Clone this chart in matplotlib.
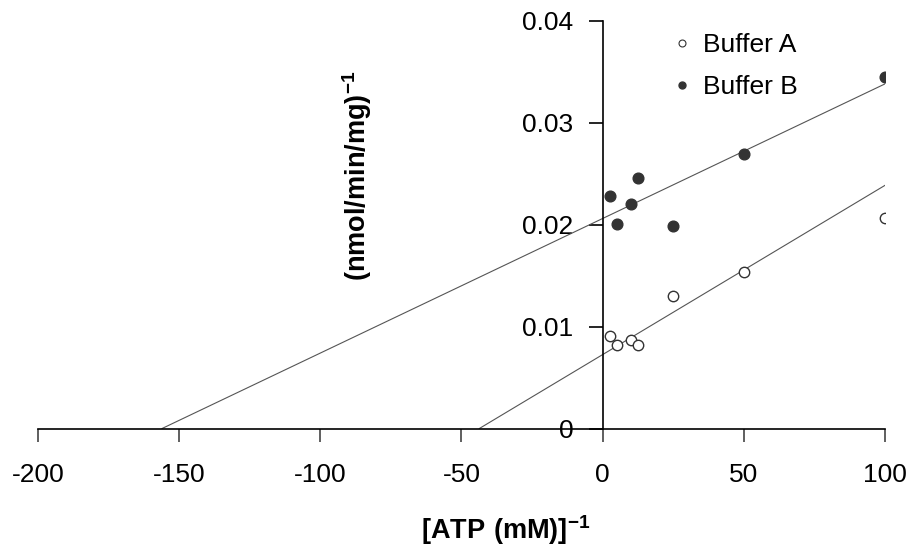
import numpy as np
import matplotlib
matplotlib.use('Agg')
import matplotlib.pyplot as plt
from matplotlib.lines import Line2D

plt.rcParams['font.family'] = 'Liberation Sans'
plt.rcParams['mathtext.fontset'] = 'custom'
plt.rcParams['mathtext.rm'] = 'Liberation Sans'
plt.rcParams['mathtext.bf'] = 'Liberation Sans:bold'

# Lineweaver-Burk data
inv_atp = [2.5, 5, 10, 12.5, 25, 50, 100]
buffer_a = [0.0091, 0.0082, 0.0087, 0.0082, 0.0130, 0.0154, 0.0206]
buffer_b = [0.0228, 0.0201, 0.0220, 0.0246, 0.0199, 0.0269, 0.0345]

# fitted lines: (slope, intercept)
fit_a = (0.000166, 0.00725)
fit_b = (0.000132, 0.0206)

x_ticks = [-200, -150, -100, -50, 0, 50, 100]
y_ticks = [0, 0.01, 0.02, 0.03, 0.04]
y_labels = ['0', '0.01', '0.02', '0.03', '0.04']

fig = plt.figure(figsize=(9.13, 5.52), dpi=100)
ax = fig.add_axes([0.0416, 0.2237, 0.9277, 0.7388])

# regression lines, extended back to the x-intercept
for slope, icpt in [fit_a, fit_b]:
    xs = np.array([-icpt / slope, 100])
    ax.plot(xs, slope * xs + icpt, color='#555555', lw=0.8, zorder=2)

ax.plot(inv_atp, buffer_a, 'o', ms=7.5, mfc='white', mec='#333333',
        mew=1.0, zorder=3)
ax.plot(inv_atp, buffer_b, 'o', ms=7.7, mfc='#333333', mec='#333333',
        zorder=3)

ax.set_xlim(-200, 100)
ax.set_ylim(0, 0.04)
ax.spines['left'].set_position(('data', 0))
ax.spines['top'].set_visible(False)
ax.spines['right'].set_visible(False)
for s in ['left', 'bottom']:
    ax.spines[s].set_linewidth(1.2)

ax.set_xticks(x_ticks)
ax.set_xticklabels([str(t) for t in x_ticks])
ax.set_yticks(y_ticks)
ax.set_yticklabels(y_labels)
ax.tick_params(axis='x', direction='out', length=9, width=1.2, pad=16,
               labelsize=19, color='#444444')
ax.tick_params(axis='y', direction='out', length=10, width=1.2, pad=11,
               labelsize=19)

# axis titles
fig.text(357 / 913, 1 - 176 / 552, r'$\mathbf{(nmol/min/mg)}^{\mathbf{-1}}$',
         rotation=90, ha='center', va='center', fontsize=19.5)
fig.text(506 / 913, 1 - 530 / 552, r'$\mathbf{[ATP\ (mM)]}^{\mathbf{-1}}$',
         ha='center', va='center', fontsize=19.5)

handles = [
    Line2D([], [], ls='none', marker='o', ms=5, mfc='white', mec='#333333', mew=0.8),
    Line2D([], [], ls='none', marker='o', ms=5, mfc='#333333', mec='#333333'),
]
ax.legend(handles, ['Buffer A', 'Buffer B'], frameon=False, fontsize=19,
          loc='upper left', bbox_to_anchor=(674 / 913, 1 - 33 / 552),
          bbox_transform=fig.transFigure, handlelength=0.6,
          handletextpad=0.5, labelspacing=0.7, borderpad=0, borderaxespad=0)

fig.savefig('out.png', dpi=100)
